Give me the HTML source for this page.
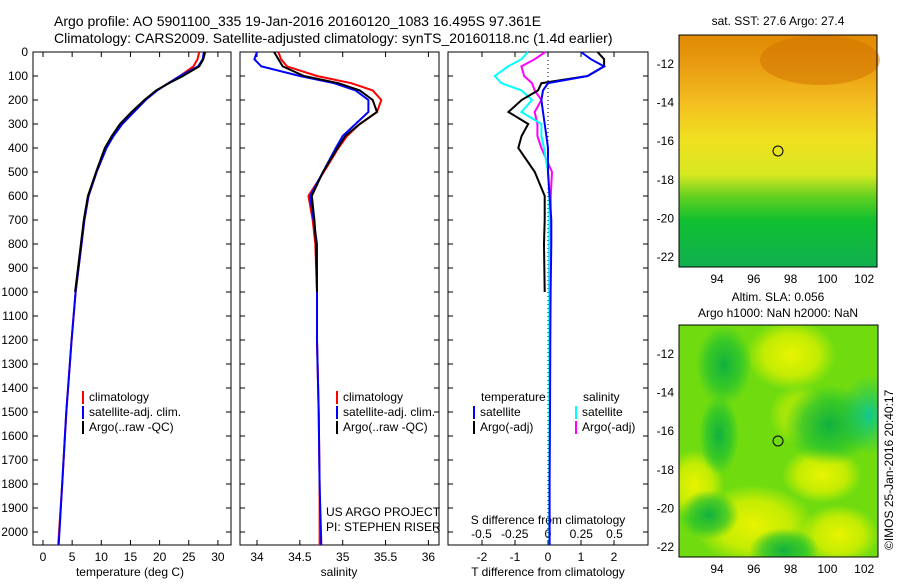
<!DOCTYPE html>
<html><head><meta charset="utf-8"><style>
body{margin:0;background:#fff;font-family:"Liberation Sans",sans-serif}
svg text{font-family:"Liberation Sans",sans-serif;font-size:12px;fill:#000}
</style></head><body>
<svg id="c" width="900" height="580" xmlns="http://www.w3.org/2000/svg">
<defs>
<linearGradient id="sstg" x1="0" y1="0" x2="0" y2="1">
<stop offset="0" stop-color="#e08a00"/><stop offset="0.12" stop-color="#e89a10"/><stop offset="0.3" stop-color="#f4c020"/><stop offset="0.45" stop-color="#f0e020"/><stop offset="0.6" stop-color="#d8e820"/><stop offset="0.7" stop-color="#60d020"/><stop offset="0.8" stop-color="#10c030"/><stop offset="1" stop-color="#10b050"/></linearGradient>
<radialGradient id="b1"><stop offset="0" stop-color="#10b040"/><stop offset="0.6" stop-color="#20c030" stop-opacity="0.7"/><stop offset="1" stop-color="#20c030" stop-opacity="0"/></radialGradient>
<radialGradient id="b2"><stop offset="0" stop-color="#e8f400"/><stop offset="0.6" stop-color="#d8f000" stop-opacity="0.8"/><stop offset="1" stop-color="#d8f000" stop-opacity="0"/></radialGradient>
<radialGradient id="b3"><stop offset="0" stop-color="#10c890"/><stop offset="1" stop-color="#10c060" stop-opacity="0"/></radialGradient>
</defs>
<text x="54" y="26" style="font-size:14px">Argo profile: AO 5901100_335 19-Jan-2016 20160120_1083 16.495S 97.361E</text>
<text x="54" y="43" style="font-size:14px">Climatology: CARS2009. Satellite-adjusted climatology: synTS_20160118.nc (1.4d earlier)</text>
<g id="plots"></g>
<g>
<text x="778" y="25" text-anchor="middle">sat. SST: 27.6 Argo: 27.4</text>
<rect x="679" y="35" width="198" height="232" fill="url(#sstg)"/>
<ellipse cx="820" cy="60" rx="60" ry="25" fill="#d07000" opacity="0.5"/>
<circle cx="778" cy="151" r="5" fill="none" stroke="#000"/>
<rect x="679" y="35" width="198" height="232" fill="none" stroke="#000"/>
</g>
<g>
<text x="778" y="301" text-anchor="middle">Altim. SLA: 0.056</text>
<text x="778" y="317" text-anchor="middle">Argo h1000: NaN h2000: NaN</text>
<svg x="679" y="325" width="199" height="232" overflow="hidden">
<rect x="0" y="0" width="199" height="232" fill="#70dc10"/>
<ellipse cx="112" cy="30" rx="45" ry="35" fill="url(#b2)"/>
<ellipse cx="120" cy="90" rx="30" ry="30" fill="url(#b2)" opacity="0.6"/>
<ellipse cx="143" cy="150" rx="40" ry="28" fill="url(#b2)"/>
<ellipse cx="75" cy="200" rx="60" ry="40" fill="url(#b2)"/>
<ellipse cx="15" cy="160" rx="30" ry="35" fill="url(#b2)"/>
<ellipse cx="160" cy="210" rx="40" ry="30" fill="url(#b2)"/>
<ellipse cx="45" cy="40" rx="28" ry="40" fill="url(#b1)"/>
<ellipse cx="40" cy="110" rx="20" ry="40" fill="url(#b1)"/>
<ellipse cx="30" cy="190" rx="30" ry="25" fill="url(#b1)"/>
<ellipse cx="105" cy="225" rx="35" ry="22" fill="url(#b1)"/>
<ellipse cx="150" cy="100" rx="45" ry="40" fill="url(#b1)"/>
<ellipse cx="190" cy="90" rx="30" ry="40" fill="url(#b3)"/>
</svg>
<circle cx="778" cy="441" r="5" fill="none" stroke="#000"/>
<rect x="679" y="325" width="199" height="232" fill="none" stroke="#000"/>
</g>
<text transform="translate(893,550) rotate(-90)">©IMOS 25-Jan-2016 20:40:17</text>
</svg>
<script>
const depthTicks=[0,100,200,300,400,500,600,700,800,900,1000,1100,1200,1300,1400,1500,1600,1700,1800,1900,2000];
const tempTicks=[0,5,10,15,20,25,30];
const salTicks=[34,34.5,35,35.5,36];
const tdiffTicks=[-2,-1,0,1,2];
const sdiffTicks=[-0.5,-0.25,0,0.25,0.5];
const sdiffLabels=["-0.5","-0.25","0","0.25","0.5"];
const depths=[0,30,60,100,130,160,200,250,300,350,400,500,600,700,800,1000,1200,1500,1800,2054];
const tempClim=[26.8,26.5,25.8,23.5,21.5,19.5,17.5,15.5,13.5,12,10.8,9.2,7.8,7.1,6.6,5.6,4.9,4.0,3.3,2.6];
const tempSat=[27.6,27.4,26.6,23.5,21.5,19.6,17.6,15.6,13.6,12.1,10.9,9.2,7.8,7.1,6.6,5.6,4.9,4.0,3.3,2.7];
const tempArgo=[27.8,27.5,26.8,24.0,21.6,19.4,17.4,15.2,13.2,11.8,10.6,9.1,7.7,7.0,6.5,5.5];
const salClim=[34.25,34.28,34.35,34.7,35.1,35.35,35.45,35.4,35.2,35.05,34.95,34.78,34.6,34.65,34.68,34.7,34.7,34.72,34.73,34.73];
const salSat=[34.0,33.97,34.05,34.5,34.9,35.15,35.3,35.3,35.15,35.0,34.92,34.77,34.62,34.66,34.7,34.7,34.7,34.72,34.73,34.75];
const salArgo=[34.2,34.25,34.3,34.55,34.95,35.2,35.35,35.4,35.2,35.03,34.94,34.77,34.64,34.67,34.69,34.7];
const tdSat=[1.0,1.3,1.7,1.2,0.0,-0.15,-0.2,-0.15,-0.1,-0.05,0.0,0.0,0.05,0.1,0.1,0.08,0.07,0.06,0.05,0.05];
const tdArgo=[1.5,1.7,1.7,1.2,-0.2,-0.3,-0.8,-1.2,-0.6,-0.8,-0.9,-0.4,-0.1,-0.1,-0.12,-0.1];
const sdSat=[-0.15,-0.2,-0.3,-0.4,-0.35,-0.2,-0.12,-0.2,-0.05,-0.05,-0.03,0.0,0.01,0.01,0.01,0.01,0.01,0.01,0.01,0.01];
const sdArgo=[-0.02,-0.1,-0.2,-0.18,-0.12,-0.1,-0.05,-0.1,-0.08,-0.08,-0.05,0.03,0.02,0.02,0.01,0.01];
const NS="http://www.w3.org/2000/svg";
const root=document.getElementById('plots');
const BOT=545;
const yD=d=>52+d*0.24;
const mk=(t,a)=>{const e=document.createElementNS(NS,t);for(const k in a)e.setAttribute(k,a[k]);root.appendChild(e);return e;};
function panel(x0,x1,name){
 const r=mk('rect',{x:x0,y:52,width:x1-x0,height:BOT-52,fill:'none',stroke:'#000'});
 
 
}
function line(xs,ys,xf,col,name){
 const p=xs.map((v,i)=>(xf(v)).toFixed(1)+','+yD(ys[i]).toFixed(1)).join(' ');
 const e=mk('polyline',{points:p,fill:'none',stroke:col,'stroke-width':2});
 
 
}
function txt(x,y,s,name,anchor){
 const t=mk('text',{x:x,y:y,'text-anchor':anchor||'start'});t.textContent=s;
 
 
}
const xT=v=>43+v*5.83, xS=v=>257+(v-34)*85.7, xTD=v=>548+v*33, xSD=v=>548+v*133;
panel(33,231,'temperature-panel');panel(240,439,'salinity-panel');panel(448,648,'difference-panel');
depthTicks.forEach(d=>{
 txt(28,yD(d)+4,String(d),'depth-tick-label','end');
 [[33,231],[240,439],[448,648]].forEach(([a,b])=>{
  const l=mk('path',{d:`M${a},${yD(d)}h5M${b},${yD(d)}h-5`,stroke:'#000'});
  
  
 });
});
function xticks(ticks,f,labels,y,name){
 ticks.forEach((v,i)=>{
  const l=mk('path',{d:`M${f(v)},${BOT}v-5M${f(v)},52v5`,stroke:'#000'});
  
  
  txt(f(v),y,labels?labels[i]:String(v),name+'-tick-label','middle');
 });
}
xticks(tempTicks,xT,null,561,'temperature');
xticks(salTicks,xS,null,561,'salinity');
xticks(tdiffTicks,xTD,null,561,'tdiff');
sdiffTicks.forEach((v,i)=>txt(xSD(v),538,sdiffLabels[i],'sdiff-tick-label','middle'));
txt(130,576,'temperature (deg C)','temperature-axis-title','middle');
txt(339,576,'salinity','salinity-axis-title','middle');
txt(548,576,'T difference from climatology','tdiff-axis-title','middle');
txt(548,524,'S difference from climatology','sdiff-axis-title','middle');
const z=mk('line',{x1:548,y1:52,x2:548,y2:BOT,stroke:'#000','stroke-dasharray':'1,3'});

line(tempClim,depths,xT,'#f00','temp-climatology');
line(tempSat,depths,xT,'#00f','temp-satellite');
line(tempArgo,depths,xT,'#000','temp-argo');
line(salClim,depths,xS,'#f00','sal-climatology');
line(salSat,depths,xS,'#00f','sal-satellite');
line(salArgo,depths,xS,'#000','sal-argo');
line(sdArgo,depths,xSD,'#f0f','sdiff-argo');
line(sdSat,depths,xSD,'#0ff','sdiff-satellite');
line(tdArgo,depths,xTD,'#000','tdiff-argo');
line(tdSat,depths,xTD,'#00f','tdiff-satellite');
function leg(x,y,col,s){
 const l=mk('path',{d:`M${x},${y-10}v13`,stroke:col,'stroke-width':2});
 
 txt(x+6,y,s,'legend-entry');
}
[[83],[337]].forEach(([x])=>{leg(x,401,'#f00','climatology');leg(x,416,'#00f','satellite-adj. clim.');leg(x,431,'#000','Argo(..raw -QC)');});
txt(481,401,'temperature','legend-temperature-header');txt(583,401,'salinity','legend-salinity-header');
leg(474,416,'#00f','satellite');leg(474,431,'#000','Argo(-adj)');
leg(576,416,'#0ff','satellite');leg(576,431,'#f0f','Argo(-adj)');
txt(326,516,'US ARGO PROJECT','project-label');txt(326,531,'PI: STEPHEN RISER','pi-label');
const latTicks=[-12,-14,-16,-18,-20,-22], lonTicks=[94,96,98,100,102];
[[35,267,10.5],[325,557,10.5]].forEach(([t,b,lat0])=>{
 latTicks.forEach(v=>{const y=t+(-v-lat0)*19.3;
  txt(674,y+4,String(v),'lat-tick-label','end');
  const l=mk('path',{d:`M679,${y}h4M877,${y}h-4`,stroke:'#000'});});
 lonTicks.forEach(v=>{const x=717+(v-94)*18.4;
  txt(x,b+16,String(v),'lon-tick-label','middle');
  const l=mk('path',{d:`M${x},${b}v-4M${x},${t}v4`,stroke:'#000'});});
});
</script>
</body></html>
